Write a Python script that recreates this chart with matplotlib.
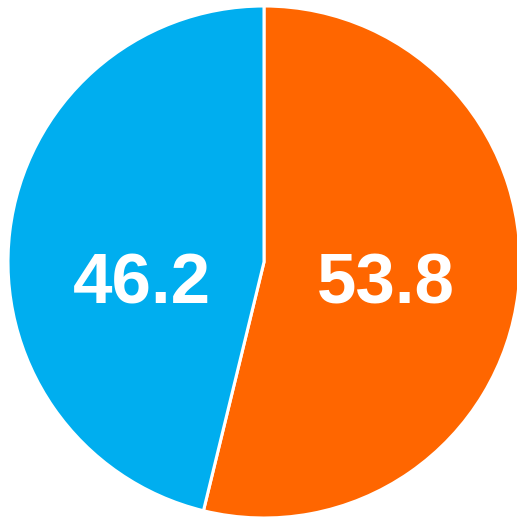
import matplotlib as mpl
mpl.use('Agg')
import matplotlib.pyplot as plt

# slice data (clockwise from 12 o'clock)
values = [53.8, 46.2]
labels = ['53.8', '46.2']
colors = ['#FF6600', '#00AEEF']

W, H = 517, 519
fig = plt.figure(figsize=(W / 100, H / 100), dpi=100)
cx, cy, r = 264, 262, 256
ax = fig.add_axes([(cx - r) / W, (H - cy - r) / H, 2 * r / W, 2 * r / H])

wedges, texts = ax.pie(values, colors=colors, startangle=90, counterclock=False,
                       labels=labels, labeldistance=0.48, radius=1,
                       wedgeprops=dict(edgecolor='white', linewidth=2.2),
                       textprops=dict(color='white', fontsize=51, fontweight='bold',
                                      family='Liberation Sans', ha='center', va='center'))
# labels sit on a common line slightly below centre
for t in texts:
    x, y = t.get_position()
    t.set_position((x, -0.09))

ax.set_xlim(-1, 1)
ax.set_ylim(-1, 1)
ax.set_aspect('equal')
ax.axis('off')

fig.savefig('out.png', dpi=100)
